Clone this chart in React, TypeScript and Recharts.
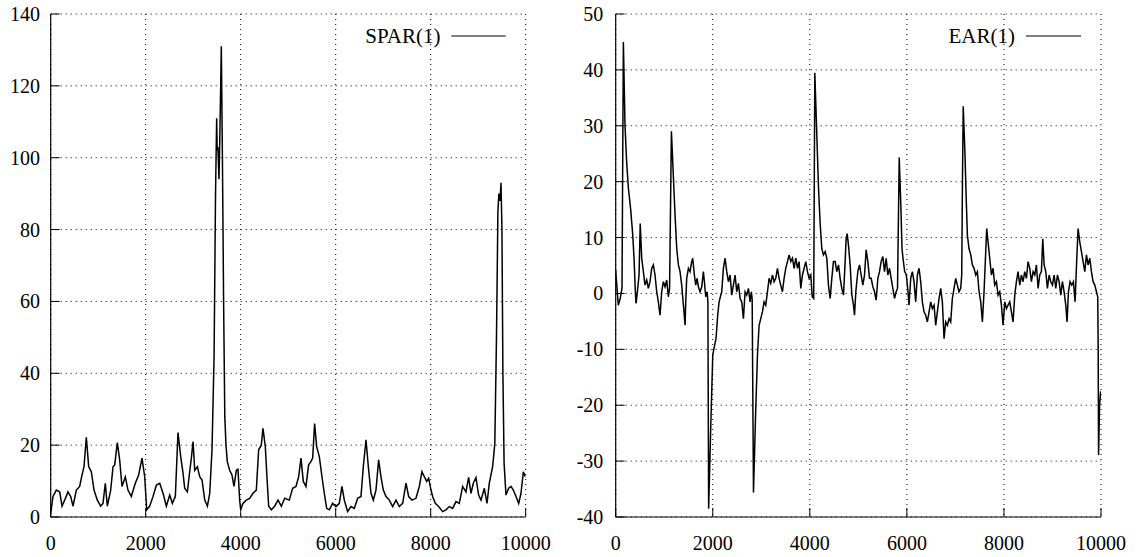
import React from 'react';
import { LineChart, Line, XAxis, YAxis, CartesianGrid, Legend } from 'recharts';

const xTicks = [0, 2000, 4000, 6000, 8000, 10000];
const sparTicks = [0, 20, 40, 60, 80, 100, 120, 140];
const earTicks = [-40, -30, -20, -10, 0, 10, 20, 30, 40, 50];

const sparX = [
  0, 48, 119, 189, 238, 294, 364, 421, 470, 540, 610, 645, 701, 750, 800, 855, 912, 982, 1052, 1101,
  1150, 1192, 1263, 1312, 1347, 1403, 1452, 1501, 1571, 1627, 1697, 1781, 1852, 1922, 1979, 2021, 2084, 2154, 2225, 2295,
  2365, 2435, 2505, 2561, 2624, 2680, 2737, 2786, 2821, 2877, 2926, 2961, 2997, 3032, 3088, 3137, 3186, 3243, 3299, 3348,
  3396, 3440, 3470, 3494, 3505, 3520, 3543, 3560, 3592, 3615, 3640, 3665, 3690, 3718, 3767, 3816, 3859, 3908, 3943, 3978,
  4000, 4048, 4118, 4188, 4259, 4329, 4378, 4434, 4469, 4518, 4560, 4589, 4645, 4715, 4785, 4856, 4926, 5023, 5094, 5164,
  5220, 5269, 5318, 5374, 5430, 5479, 5515, 5556, 5599, 5655, 5711, 5760, 5810, 5866, 5936, 6006, 6076, 6132, 6181, 6251,
  6322, 6392, 6462, 6532, 6581, 6638, 6687, 6743, 6792, 6848, 6904, 6953, 7003, 7059, 7129, 7199, 7269, 7339, 7410, 7480,
  7536, 7606, 7690, 7760, 7816, 7866, 7915, 7957, 8006, 8041, 8097, 8167, 8251, 8321, 8392, 8462, 8532, 8602, 8672, 8742,
  8798, 8848, 8897, 8953, 9009, 9059, 9129, 9185, 9234, 9304, 9350, 9385, 9415, 9435, 9460, 9480, 9500, 9520, 9545, 9585,
  9641, 9690, 9739, 9796, 9852, 9901, 9950, 9992,
];
const sparY = [
  1, 5.7, 7.5, 7, 3, 4.7, 7, 5.7, 3, 7.5, 8.5, 10.8, 14, 22.2, 14, 12.6, 7.5, 4.7, 3, 3.8,
  9.4, 3, 7.5, 14, 14.5, 20.7, 15.9, 8.5, 11.2, 7.5, 5.7, 9.4, 11.7, 16.4, 11.2, 2, 3, 5.7, 8.9, 9.4,
  6.6, 3, 6.1, 3.8, 5.7, 23.5, 16.8, 12.2, 8, 7, 12.6, 16.4, 21, 13, 14, 11.2, 10.3, 4.7, 3, 6.6,
  18.7, 45, 90, 111, 102, 103, 94, 105, 131, 100, 60, 28, 20, 15.4, 13, 11.7, 8.5, 13, 13.3, 4.7,
  2, 3.8, 4.7, 5.2, 6.6, 7.5, 18.7, 20, 24.7, 19.6, 9.4, 3, 2, 3, 4.7, 3, 5.2, 4.7, 8, 8.5,
  11.2, 16.4, 9.9, 8.5, 14.5, 15.4, 16.4, 26, 19.6, 16.8, 11.2, 6.6, 2.4, 2, 3.8, 2.9, 3.8, 8.5, 4.7, 1.5,
  2.9, 2.4, 5.2, 5.7, 14, 21.5, 14, 6.6, 4.7, 7.5, 15.9, 11.2, 7.5, 5.7, 4.7, 2.9, 4.7, 2.9, 3.8, 9.4,
  5.7, 4.7, 5.2, 8.5, 12.6, 11.2, 9.9, 10.8, 7.5, 5.7, 3.8, 2.9, 1.5, 2, 2.9, 2.4, 4.3, 3.8, 8.5, 7,
  11, 6.6, 9.4, 11, 6.1, 4.7, 8, 3.8, 9.4, 14, 20.5, 50, 85, 90, 88, 93, 80, 40, 15, 6.1,
  8, 8.5, 7.5, 5.7, 3.8, 6.6, 12.6, 11.2,
];

const earX = [
  0, 6, 54, 96, 130, 158, 192, 227, 261, 309,
  350, 378, 405, 419, 447, 481, 505, 536, 570, 604,
  639, 673, 707, 742, 776, 810, 845, 879, 913, 948,
  982, 1017, 1051, 1085, 1110, 1148, 1189, 1223, 1258, 1292,
  1326, 1360, 1395, 1430, 1443, 1463, 1498, 1532, 1566, 1587,
  1621, 1649, 1676, 1704, 1738, 1773, 1807, 1828, 1855, 1883,
  1900, 1915, 1959, 2000, 2040, 2068, 2102, 2130, 2157, 2185,
  2219, 2254, 2288, 2322, 2357, 2391, 2425, 2460, 2494, 2529,
  2563, 2597, 2632, 2666, 2700, 2735, 2769, 2795, 2812, 2839,
  2880, 2921, 2955, 2989, 3023, 3058, 3092, 3127, 3161, 3195,
  3230, 3264, 3298, 3333, 3367, 3401, 3436, 3470, 3504, 3539,
  3573, 3608, 3642, 3676, 3711, 3745, 3779, 3814, 3848, 3882,
  3917, 3951, 3986, 4020, 4050, 4080, 4103, 4144, 4179, 4213,
  4247, 4281, 4316, 4350, 4384, 4419, 4453, 4487, 4522, 4556,
  4591, 4625, 4659, 4694, 4728, 4748, 4769, 4797, 4831, 4866,
  4900, 4921, 4948, 4989, 5024, 5058, 5093, 5127, 5161, 5196,
  5230, 5264, 5299, 5333, 5367, 5402, 5436, 5470, 5505, 5539,
  5573, 5608, 5642, 5676, 5711, 5745, 5779, 5807, 5842, 5876,
  5900, 5920, 5955, 5989, 6023, 6044, 6079, 6113, 6147, 6182,
  6216, 6250, 6285, 6319, 6354, 6388, 6422, 6457, 6491, 6525,
  6560, 6594, 6628, 6663, 6697, 6731, 6766, 6800, 6834, 6869,
  6903, 6937, 6972, 7006, 7040, 7075, 7109, 7130, 7145, 7161,
  7196, 7223, 7247, 7281, 7316, 7350, 7384, 7419, 7453, 7487,
  7522, 7556, 7590, 7625, 7645, 7673, 7707, 7742, 7776, 7810,
  7845, 7879, 7913, 7948, 7982, 8017, 8051, 8085, 8120, 8154,
  8188, 8223, 8257, 8291, 8326, 8360, 8394, 8429, 8463, 8497,
  8532, 8566, 8601, 8635, 8669, 8704, 8738, 8772, 8800, 8828,
  8862, 8896, 8931, 8965, 8999, 9034, 9068, 9102, 9137, 9171,
  9205, 9240, 9274, 9301, 9329, 9363, 9398, 9432, 9466, 9501,
  9528, 9563, 9597, 9631, 9666, 9700, 9734, 9769, 9803, 9837,
  9872, 9906, 9933, 9942, 9950, 9970, 9993,
];
const earY = [
  4.2, 3.3, -2.1, -0.8, 1, 45, 30, 23.3, 18.9, 15,
  10.6, 6.3, 0.3, -1.8, 0.3, 3.3, 12.5, 6.3, 3.9, 1.5,
  2.4, 0.9, 2.1, 4.5, 5.1, 3.3, 0.3, -1.5, -3.9, 0.3,
  2.1, 1.2, 2.4, -0.6, 0.9, 29, 20.8, 14, 8, 5.1,
  3.9, 1.5, -2.1, -5.7, -1.5, 2.7, 4.5, 3.9, 5.7, 6.3,
  3.3, 1.5, 2.7, 1.2, 0.3, 1.2, 3.9, 2.1, -0.6, 0.3,
  -1.5, -38.5, -23.8, -11, -9.2, -8, -3.9, -1.5, -0.6, 0.3,
  4.5, 6.3, 3.9, 2.1, 3.3, -0.3, 1.5, 3.3, 0.3, 1.8,
  -0.9, -1.5, -4.5, 0.3, -0.3, 0.9, -1.5, 0.3, -1, -35.6,
  -22.5, -11, -5.7, -4.5, -3.3, -1.5, -2.1, 0.3, 2.7, 1.8,
  3.3, 2.1, 2.7, 4.5, 2.7, 1.5, 0.3, 2.7, 4.5, 5.7,
  6.9, 5.7, 6.3, 4.5, 6.3, 4.5, 5.7, 0.9, 3.3, 4.5,
  5.7, 3.9, 2.7, 3.3, -0.6, -0.9, 39.5, 28.4, 18.9, 12.5,
  8, 6.9, 7.5, 6.3, 1.5, -0.9, 2.7, 5.7, 5.7, 3.9,
  5.1, 2.7, 0.9, -0.3, 5.7, 9.8, 10.7, 8.6, 5.1, -0.3,
  -2.1, -3.9, 0.3, 3.9, 5.1, 3.3, 1.5, 3.3, 7.8, 5.7,
  2.7, 2.7, 1.2, 0.3, -1.2, 2.7, 3.9, 5.7, 6.6, 3.9,
  6.3, 3.3, 4.5, 2.7, 0.9, -0.9, 0.3, 0.9, 24.3, 15.7,
  8, 6.3, 3.9, 3.3, 0.3, -2.1, 2.7, 3.9, 2.1, -1.5,
  3.3, 4.5, 2.1, -1.5, -3.3, -3.9, -5.1, -3.3, -1.5, -2.7,
  -2.1, -5.7, -3.3, -0.9, 0.9, -1.5, -8.1, -5.1, -5.7, -4.5,
  -5.1, -0.9, 0.9, 2.7, 1.5, 0.3, 0.9, 3.3, 20, 33.5,
  25.2, 16.9, 10.4, 8, 6.9, 5.1, 4.5, 3.3, 3.9, 0.3,
  -1.5, -5.1, 0.3, 7.5, 11.6, 9.2, 6.3, 3.3, 4.5, 1.5,
  2.1, -0.3, 0.3, -2.1, -5.7, -1.5, -2.7, -2.1, -1.5, -3.3,
  -5.1, -0.3, 2.1, 3.9, 1.5, 3.3, 2.1, 3.9, 2.7, 5.7,
  4.5, 2.1, 3.9, 3.3, 5.1, 0.9, 3.3, 3.9, 9.8, 5.1,
  3.9, 0.9, 3.3, 2.1, 1.5, 3.3, 0.9, 3.3, 2.1, -0.3,
  2.1, 0.3, -2.1, -5.1, 0.3, 2.1, 1.5, 2.1, -1.5, 6.3,
  11.6, 9.2, 7.5, 5.7, 3.9, 6.9, 5.1, 6.3, 3.9, 2.1,
  1.5, 0.3, -0.6, -10, -28.9, -20, -17.5,
];

const sparData = sparX.map((x, i) => ({ x, y: sparY[i] }));
const earData = earX.map((x, i) => ({ x, y: earY[i] }));

const FONT = '"Liberation Serif", "Times New Roman", Times, serif';

const XTick = (props: any) => {
  const { x, y, payload } = props;
  return (
    <text x={x} y={y} dy={14} textAnchor="middle" fontSize={20} fontFamily={FONT} fill="#000">
      {payload.value}
    </text>
  );
};

const YTick = (props: any) => {
  const { x, y, payload } = props;
  return (
    <text x={x} y={y} dy={7} textAnchor="end" fontSize={20} fontFamily={FONT} fill="#000">
      {payload.value}
    </text>
  );
};

type PanelProps = {
  width: number;
  data: { x: number; y: number }[];
  yTicks: number[];
  yDomain: [number, number];
  yAxisWidth: number;
  rightMargin: number;
  yTickMargin: number;
  label: string;
  textEnd: number;
  lineStart: number;
  lineEnd: number;
};

function Panel(p: PanelProps) {
  const legendLeft = 300;
  const LegendContent = () => (
    <svg width={p.width - legendLeft} height={50} style={{ display: 'block' }}>
      <text
        x={p.textEnd - legendLeft}
        y={43}
        textAnchor="end"
        fontSize={21}
        fontFamily={FONT}
        fill="#000"
      >
        {p.label}
      </text>
      <line x1={p.lineStart - legendLeft} x2={p.lineEnd - legendLeft} y1={36} y2={36} stroke="#000" strokeWidth={1.2} />
    </svg>
  );
  return (
    <LineChart
      width={p.width}
      height={557}
      data={p.data}
      margin={{ top: 14, right: p.rightMargin, bottom: 0, left: 0 }}
      style={{ fontFamily: FONT }}
    >
      <CartesianGrid stroke="#000" strokeWidth={1} strokeDasharray="1 4" />
      <XAxis
        dataKey="x"
        type="number"
        domain={[0, 10000]}
        ticks={xTicks}
        allowDataOverflow
        height={40}
        tickSize={-9}
        tickMargin={28}
        tick={<XTick />}
        axisLine={{ stroke: '#000', strokeWidth: 1.2 }}
        tickLine={{ stroke: '#000', strokeWidth: 1 }}
        interval={0}
      />
      <XAxis
        xAxisId="top"
        orientation="top"
        type="number"
        domain={[0, 10000]}
        ticks={xTicks}
        allowDataOverflow
        height={0}
        tickSize={-9}
        tick={false}
        axisLine={{ stroke: '#000', strokeWidth: 1.2 }}
        tickLine={{ stroke: '#000', strokeWidth: 1 }}
        interval={0}
      />
      <YAxis
        type="number"
        domain={p.yDomain}
        ticks={p.yTicks}
        allowDataOverflow
        width={p.yAxisWidth}
        tickSize={-9}
        tickMargin={p.yTickMargin}
        tick={<YTick />}
        axisLine={{ stroke: '#000', strokeWidth: 1.2 }}
        tickLine={{ stroke: '#000', strokeWidth: 1 }}
        interval={0}
      />
      <YAxis
        yAxisId="right"
        orientation="right"
        type="number"
        domain={p.yDomain}
        ticks={p.yTicks}
        allowDataOverflow
        width={0}
        tickSize={-9}
        tick={false}
        axisLine={{ stroke: '#000', strokeWidth: 1.2 }}
        tickLine={{ stroke: '#000', strokeWidth: 1 }}
        interval={0}
      />
      <Legend
        layout="horizontal"
        verticalAlign="middle"
        align="center"
        wrapperStyle={{ left: legendLeft, top: 0, width: p.width - legendLeft, height: 50 }}
        content={LegendContent}
      />
      <Line
        type="linear"
        dataKey="y"
        name={p.label}
        stroke="#000"
        strokeWidth={1.5}
        dot={false}
        activeDot={false}
        isAnimationActive={false}
      />
    </LineChart>
  );
}

export default function App() {
  return (
    <div style={{ position: 'absolute', left: 0, top: 0, width: 1138, height: 557, background: '#fff', overflow: 'hidden' }}>
      <div style={{ position: 'absolute', left: 0, top: 0 }}>
        <Panel
          width={560}
          data={sparData}
          yTicks={sparTicks}
          yDomain={[0, 140]}
          yAxisWidth={50.7}
          rightMargin={34.3}
          yTickMargin={19.7}
          label="SPAR(1)"
          textEnd={440.4}
          lineStart={451.4}
          lineEnd={505.7}
        />
      </div>
      <div style={{ position: 'absolute', left: 560, top: 0 }}>
        <Panel
          width={578}
          data={earData}
          yTicks={earTicks}
          yDomain={[-40, 50]}
          yAxisWidth={55.7}
          rightMargin={37}
          yTickMargin={21.4}
          label="EAR(1)"
          textEnd={455}
          lineStart={466}
          lineEnd={521}
        />
      </div>
    </div>
  );
}
